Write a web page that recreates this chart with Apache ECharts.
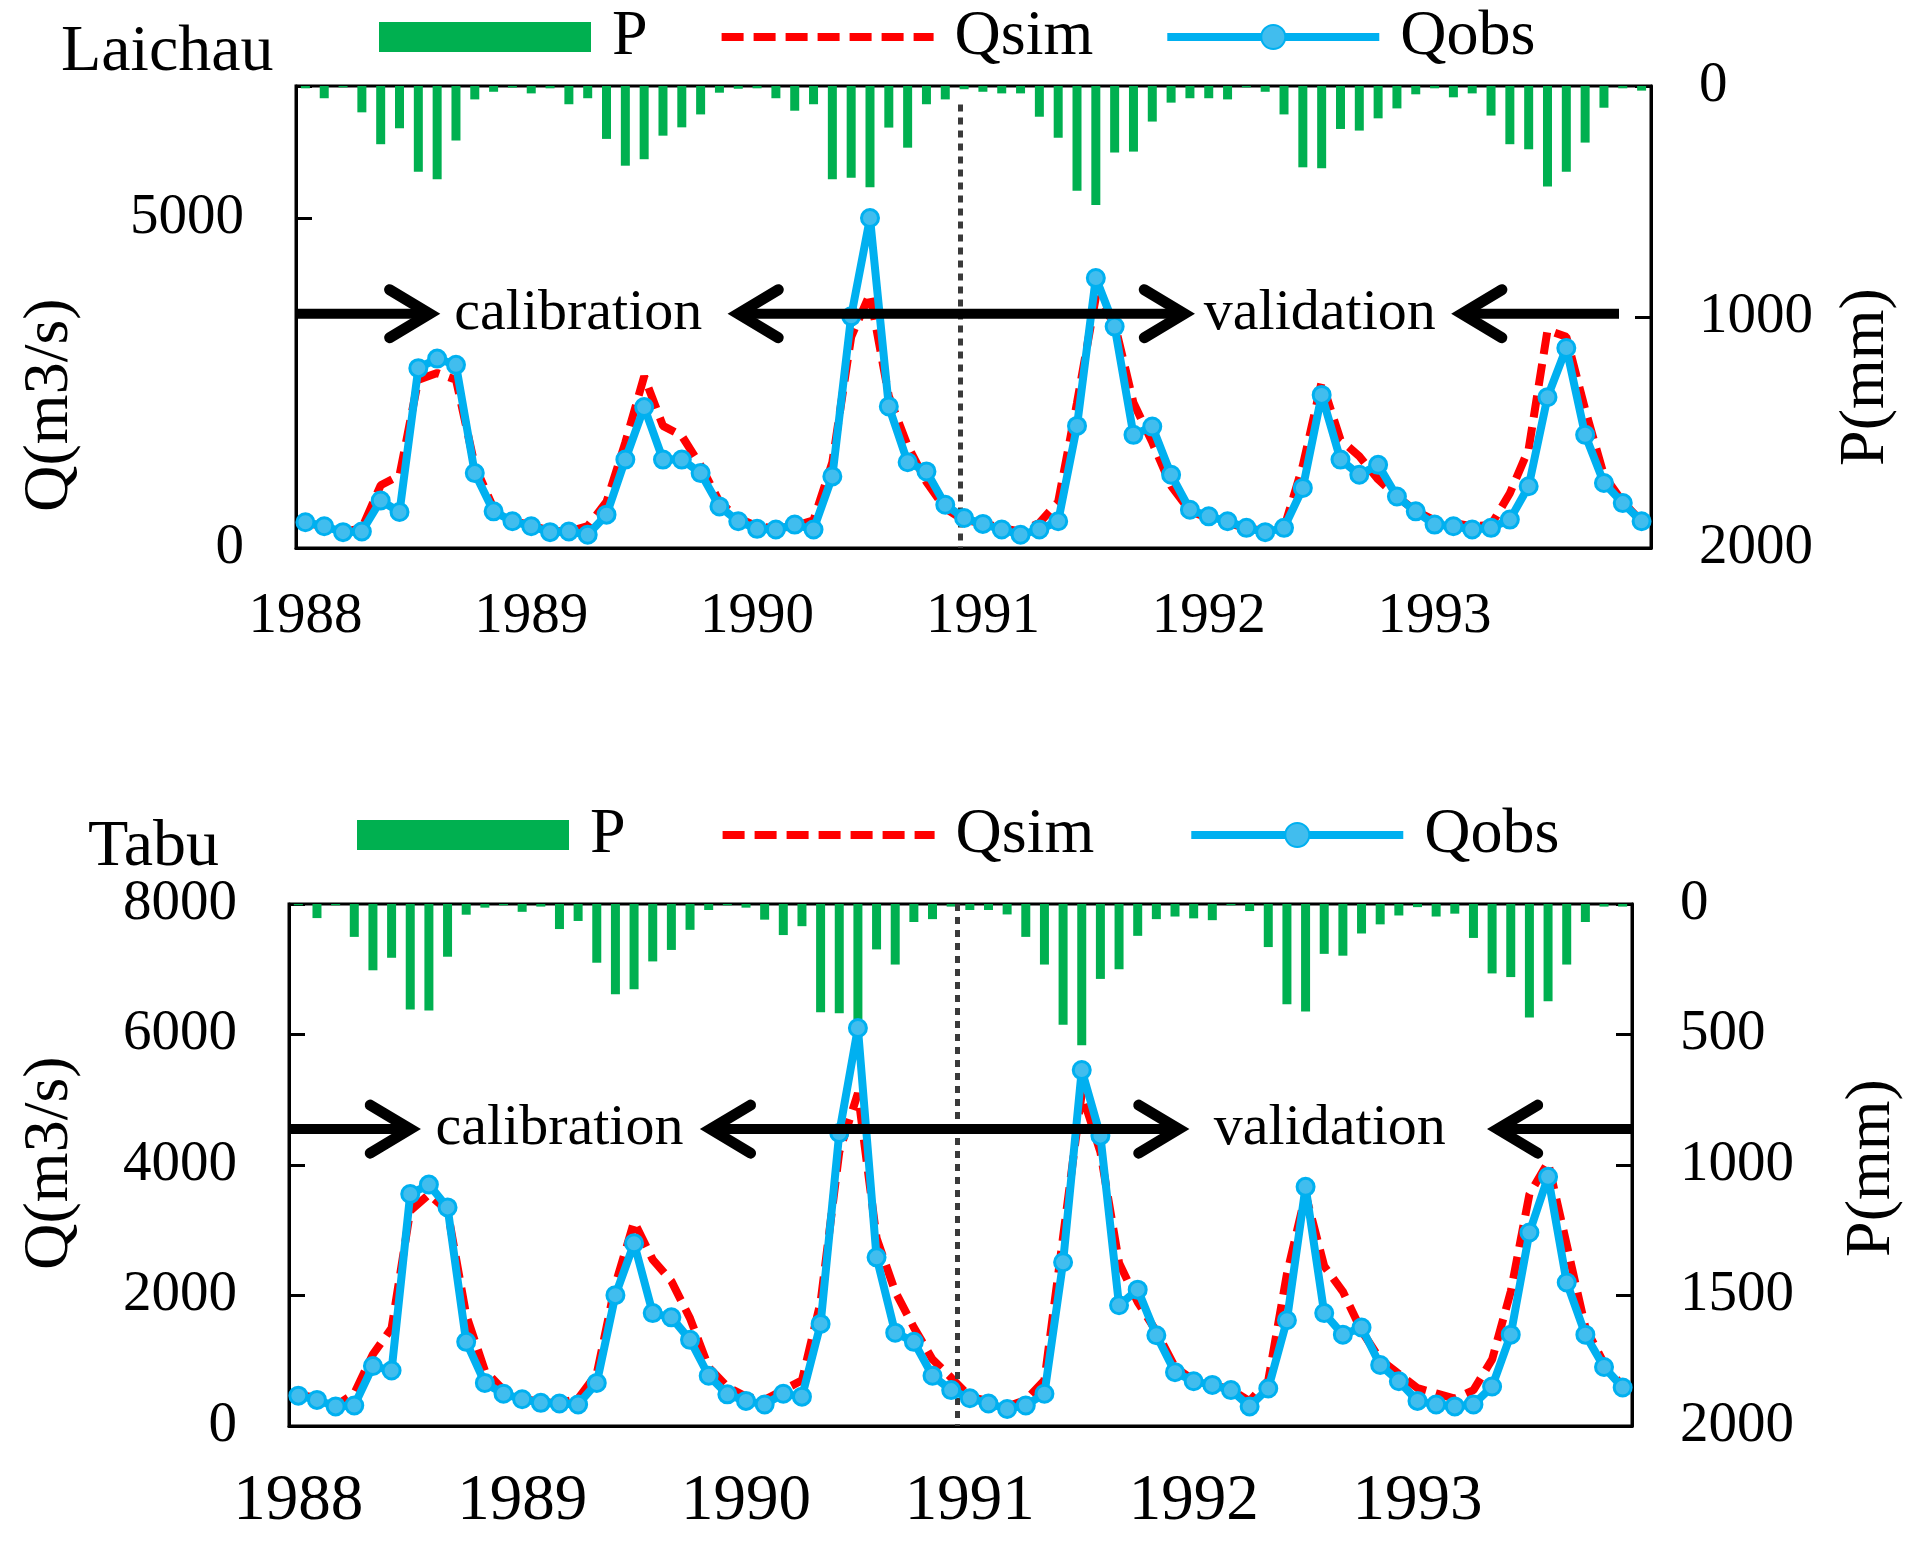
<!DOCTYPE html>
<html>
<head>
<meta charset="utf-8">
<script src="https://cdn.jsdelivr.net/npm/echarts@6/dist/echarts.min.js"></script>
<style>
html,body{margin:0;padding:0;background:#fff;}
#chart{width:1927px;height:1550px;}
</style>
</head>
<body>
<div id="chart"></div>
<script>
// ---------- data ----------
const years = ['1988', '1989', '1990', '1991', '1992', '1993'];
const monthNames = ['01','02','03','04','05','06','07','08','09','10','11','12'];
const months = [];
years.forEach(function (y) { monthNames.forEach(function (m) { months.push(y + '-' + m); }); });

const laichauP = [10,53,6,114,252,183,371,404,236,58,25,7,
  32,10,79,53,229,345,317,215,179,123,29,12,
  10,53,107,79,404,397,438,180,267,79,58,14,
  25,32,32,133,224,453,515,288,284,154,72,53,
  53,58,6,25,123,352,356,186,193,140,97,36,
  10,49,32,128,252,274,435,371,245,94,10,20];
const laichauQsim = [380,330,240,300,950,1100,2550,2650,2550,1250,600,420,
  340,260,250,330,700,1600,2600,1850,1700,1250,700,450,
  330,300,330,420,1300,3200,3850,2300,1550,1000,600,420,
  380,300,250,380,700,2200,3800,3400,2200,1600,940,560,
  450,380,300,260,300,1250,2520,1640,1390,1040,780,560,
  420,380,330,350,830,1500,3300,3200,2100,1100,700,400];
const laichauQobs = [390,330,240,250,720,545,2725,2870,2775,1135,555,405,
  330,240,250,200,505,1340,2135,1340,1340,1135,630,405,
  290,280,355,280,1085,3510,5000,2145,1300,1160,655,455,
  365,280,200,280,405,1850,4090,3355,1715,1840,1110,580,
  480,405,305,240,305,910,2320,1340,1110,1260,780,555,
  355,330,280,305,430,935,2285,3030,1715,985,680,405];

const tabuP = [5,54,5,126,254,206,404,408,202,41,14,5,
  30,10,96,65,225,346,327,220,176,99,23,5,
  14,60,119,85,415,419,442,174,232,69,58,10,
  23,23,40,126,232,463,541,287,250,122,58,48,
  55,62,5,27,165,384,412,191,198,113,78,44,
  12,48,37,130,266,280,435,373,232,69,10,10];
const tabuQsim = [480,430,310,500,1100,1500,3300,3550,3300,1700,850,550,
  420,370,350,420,800,2170,3130,2550,2220,1650,900,600,
  450,400,550,700,1900,4200,5100,2880,2060,1510,1020,740,
  450,380,300,400,700,2900,5100,4200,2500,1900,1450,900,
  700,630,560,380,700,2330,3550,2450,2060,1460,1020,800,
  580,500,420,550,1020,2060,3550,4040,2780,1510,960,600];
const tabuQobs = [465,400,300,315,920,850,3555,3700,3350,1290,660,495,
  410,355,345,330,660,2005,2800,1730,1665,1320,770,485,
  385,330,495,450,1565,4490,6100,2585,1430,1290,770,550,
  425,345,260,315,495,2510,5455,4450,1850,2090,1390,825,
  685,630,550,300,575,1620,3665,1730,1400,1510,935,685,
  385,330,300,330,605,1400,2965,3820,2200,1400,905,590];

// split between calibration and validation (month index)
const splitTop = 35.27;
const splitBottom = 35.83;

// ---------- styles ----------
const FONT = '"Liberation Serif","Times New Roman",serif';
const BLACK = '#000000';
const GREEN = '#00B050';
const RED = '#FF0000';
const BLUE = '#00B0F0';
const TICK_FS = 57;
const LINE_W = 8;

function xCat(gridIndex, margin, fontSize) {
  return {
    type: 'category', gridIndex: gridIndex, data: months, boundaryGap: true,
    axisLine: { lineStyle: { color: BLACK, width: 3 } },
    axisTick: { inside: true, length: 18, interval: 11, lineStyle: { color: BLACK, width: 3 } },
    axisLabel: { interval: 11, margin: margin, fontSize: fontSize, fontFamily: FONT, color: BLACK,
      formatter: function (v) { return v.slice(0, 4); } },
    splitLine: { show: false }
  };
}
function xHidden(gridIndex) {
  return { type: 'value', gridIndex: gridIndex, min: 0, max: 72, show: false };
}
function yLeft(gridIndex, max, interval) {
  return {
    type: 'value', gridIndex: gridIndex, position: 'left', min: 0, max: max, interval: interval,
    axisLine: { show: true, lineStyle: { color: BLACK, width: 3 } },
    axisTick: { show: true, inside: true, length: 16, lineStyle: { color: BLACK, width: 3 } },
    axisLabel: { margin: 52, fontSize: TICK_FS, fontFamily: FONT, color: BLACK,
      formatter: function (v) { return v % interval === 0 ? String(v) : ''; } },
    splitLine: { show: false }
  };
}
function yRight(gridIndex, interval) {
  return {
    type: 'value', gridIndex: gridIndex, position: 'right', min: 0, max: 2000, interval: interval, inverse: true,
    axisLine: { show: true, lineStyle: { color: BLACK, width: 3 } },
    axisTick: { show: true, inside: true, length: 16, lineStyle: { color: BLACK, width: 3 } },
    axisLabel: { margin: 48, fontSize: TICK_FS, fontFamily: FONT, color: BLACK,
      formatter: function (v) { return String(v); } },
    splitLine: { show: false }
  };
}
function seriesSet(xCatIdx, xValIdx, yQIdx, yPIdx, P, Qsim, Qobs, split, top) {
  return [
    { name: 'P', type: 'bar', xAxisIndex: xCatIdx, yAxisIndex: yPIdx, data: P, barWidth: 9,
      itemStyle: { color: GREEN }, z: 2 },
    { name: 'Qsim', type: 'line', xAxisIndex: xCatIdx, yAxisIndex: yQIdx, data: Qsim,
      symbol: 'none', lineStyle: { color: RED, width: LINE_W, type: [22, 10] }, itemStyle: { color: RED }, z: 4 },
    { name: 'Qobs', type: 'line', xAxisIndex: xCatIdx, yAxisIndex: yQIdx, data: Qobs,
      symbol: 'circle', symbolSize: 17, showAllSymbol: true,
      lineStyle: { color: BLUE, width: LINE_W },
      itemStyle: { color: '#41BDEE', borderColor: BLUE, borderWidth: 3 }, z: 5 },
    { type: 'line', xAxisIndex: xValIdx, yAxisIndex: yQIdx, data: [], silent: true, z: 3,
      markLine: { silent: true, symbol: ['none', 'none'], label: { show: false }, animation: false,
        lineStyle: { color: '#3a3a3a', width: 5, type: [7, 6] },
        data: [[{ coord: [split, top] }, { coord: [split, 0] }]] } }
  ];
}
function legendAt(left, top, gap) {
  return {
    left: left, top: top, itemWidth: 212, itemHeight: 30, itemGap: gap, selectedMode: false,
    lineStyle: { width: LINE_W },
    textStyle: { fontSize: 64, fontFamily: FONT, color: BLACK, padding: [0, 0, 0, 16] },
    data: [
      { name: 'P', icon: 'rect' },
      { name: 'Qsim', itemStyle: { opacity: 0 } },
      { name: 'Qobs' }
    ]
  };
}

const chart = echarts.init(document.getElementById('chart'), null, { renderer: 'canvas' });
chart.setOption({
  animation: false,
  backgroundColor: '#ffffff',
  grid: [
    { left: 296, top: 86, width: 1355, height: 462, show: true, borderColor: BLACK, borderWidth: 3, containLabel: false },
    { left: 289, top: 904, width: 1343, height: 522, show: true, borderColor: BLACK, borderWidth: 3, containLabel: false }
  ],
  legend: [legendAt(374, 0, 70), legendAt(352, 798, 93)],
  xAxis: [xCat(0, 41, 57), xHidden(0), xCat(1, 43, 65), xHidden(1)],
  yAxis: [yLeft(0, 7000, 5000), yRight(0, 1000), yLeft(1, 8000, 2000), yRight(1, 500)],
  series: [].concat(
    seriesSet(0, 1, 0, 1, laichauP, laichauQsim, laichauQobs, splitTop, 6720),
    seriesSet(2, 3, 2, 3, tabuP, tabuQsim, tabuQobs, splitBottom, 8000)
  )
});

// ---------- annotations (positions in data space: month index, Q) ----------
const annotations = [
  { xAxisIndex: 1, yAxisIndex: 0, q: 3550,
    arrows: [{ from: 0, to: 7.1 }, { from: 23.5, to: 47.2, both: true }, { from: 70.3, to: 61.95 }],
    labels: [{ x: 15.0, text: 'calibration' }, { x: 54.4, text: 'validation' }] },
  { xAxisIndex: 3, yAxisIndex: 2, q: 4550,
    arrows: [{ from: 0, to: 6.5 }, { from: 22.6, to: 47.7, both: true }, { from: 72, to: 64.8 }],
    labels: [{ x: 14.5, text: 'calibration' }, { x: 55.8, text: 'validation' }] }
];
const graphics = [];
function head(px, py, dir) {
  graphics.push({ type: 'polyline', z: 20, shape: { points: [[px - dir * 40, py - 24], [px, py], [px - dir * 40, py + 24]] },
    style: { stroke: BLACK, lineWidth: 11, fill: null, lineCap: 'round', lineJoin: 'miter' } });
}
annotations.forEach(function (a) {
  const f = { xAxisIndex: a.xAxisIndex, yAxisIndex: a.yAxisIndex };
  a.arrows.forEach(function (ar) {
    const p1 = chart.convertToPixel(f, [ar.from, a.q]);
    const p2 = chart.convertToPixel(f, [ar.to, a.q]);
    const dir = p2[0] > p1[0] ? 1 : -1;
    graphics.push({ type: 'line', z: 20, shape: { x1: p1[0], y1: p1[1], x2: p2[0] - dir * 3, y2: p2[1] },
      style: { stroke: BLACK, lineWidth: 10 } });
    head(p2[0], p2[1], dir);
    if (ar.both) head(p1[0], p1[1], -dir);
  });
  a.labels.forEach(function (l) {
    const p = chart.convertToPixel(f, [l.x, a.q]);
    graphics.push({ type: 'text', z: 20, x: p[0], y: p[1],
      style: { text: l.text, font: '58px ' + FONT, fill: BLACK, textAlign: 'center', textVerticalAlign: 'middle' } });
  });
});
// titles and axis names
function txt(text, x, y, size, rot, align) {
  graphics.push({ type: 'text', z: 20, x: x, y: y, rotation: rot || 0,
    style: { text: text, font: size + 'px ' + FONT, fill: BLACK, textAlign: align || 'center', textVerticalAlign: 'middle' } });
}
txt('Laichau', 61, 53, 66, 0, 'left');
txt('Tabu', 88, 848, 66, 0, 'left');
txt('Q(m3/s)', 50, 405, 64, Math.PI / 2);
txt('P(mm)', 1866, 377, 64, Math.PI / 2);
txt('Q(m3/s)', 50, 1163, 64, Math.PI / 2);
txt('P(mm)', 1872, 1168, 64, Math.PI / 2);
chart.setOption({ graphic: graphics });
</script>
</body>
</html>
